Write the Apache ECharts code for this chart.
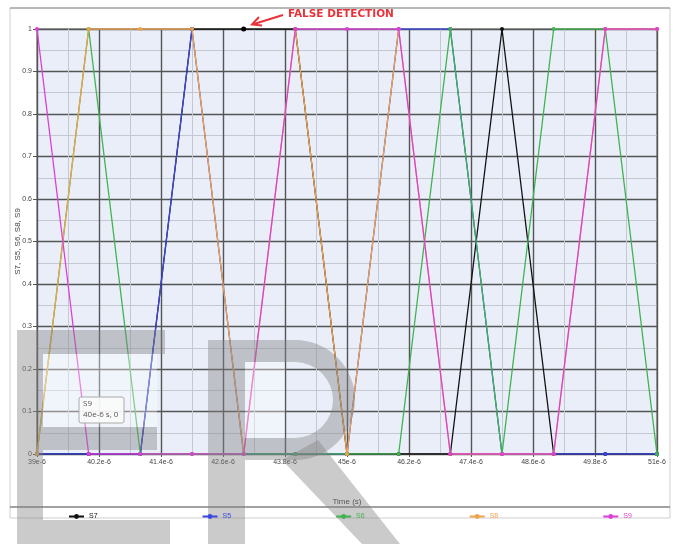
<!DOCTYPE html>
<html>
<head>
<meta charset="utf-8">
<script src="https://cdn.jsdelivr.net/npm/echarts@6/dist/echarts.min.js"></script>
<style>
  html, body { margin: 0; padding: 0; background: #fff; }
  #main { width: 676px; height: 544px; }
</style>
</head>
<body>
<div id="main"></div>
<script>
// sample times in microseconds (axis labels get the e-6 suffix)
const times = [39, 40, 41, 42, 43, 44, 45, 46, 47, 48, 49, 50, 51];
const s7 = [0, 0, 0, 1, 1, 1, 0, 0, 0, 1, 0, 0, 0];
const s5 = [0, 0, 0, 1, 0, 0, 0, 1, 1, 0, 0, 0, 0];
const s6 = [0, 1, 0, 0, 0, 0, 0, 0, 1, 0, 1, 1, 0];
const s8 = [0, 1, 1, 1, 0, 1, 0, 1, 0, 0, 0, 1, 1];
const s9 = [1, 0, 0, 0, 0, 1, 1, 1, 0, 0, 0, 1, 1];
const seriesNames = ['S7', 'S5', 'S6', 'S8', 'S9'];
const seriesColors = ['#111111', '#3b46e0', '#3fb34f', '#eea24a', '#dd3fd6'];
const falseDetection = [43, 1];

const chart = echarts.init(document.getElementById('main'));

function pairs(vals) {
  return times.map((t, i) => [t, vals[i]]);
}

const allValues = [s7, s5, s6, s8, s9];
const series = allValues.map((vals, i) => ({
  name: seriesNames[i],
  type: 'line',
  data: pairs(vals),
  color: seriesColors[i],
  symbol: 'circle',
  symbolSize: 4,
  lineStyle: { width: 1.3 },
  animation: false
}));
series[0].markPoint = {
  symbol: 'circle',
  symbolSize: 5,
  itemStyle: { color: '#000' },
  label: { show: false },
  data: [{ coord: falseDetection }]
};

const wm = 'rgba(130,130,130,0.42)';
const wmLight = 'rgba(255,255,255,0.35)';

const option = {
  backgroundColor: '#fff',
  textStyle: { fontFamily: 'Liberation Sans' },
  grid: {
    left: 37, right: 19, top: 29, bottom: 90,
    outerBoundsMode: 'none',
    show: true, backgroundColor: '#e9eef9', borderColor: '#555', borderWidth: 1
  },
  legend: {
    left: 63, top: 508, z: 100,
    itemWidth: 15, itemHeight: 6, itemGap: 104,
    textStyle: { fontSize: 7 },
    data: seriesNames.map((n, i) => ({ name: n, textStyle: { color: seriesColors[i] } }))
  },
  xAxis: {
    type: 'value', min: 39, max: 51, interval: 1.2,
    name: 'Time (s)', nameLocation: 'middle', nameGap: 44,
    nameTextStyle: { fontSize: 8, color: '#333' },
    axisLine: { lineStyle: { color: '#555' } },
    axisTick: { show: true, length: 3, lineStyle: { color: '#555' } },
    axisLabel: {
      fontSize: 7, color: '#444', margin: 5,
      formatter: v => (+v.toFixed(1)) + 'e-6'
    },
    splitLine: { lineStyle: { color: '#555', width: 1.4 } },
    minorTick: { show: false, splitNumber: 2 },
    minorSplitLine: { show: true, lineStyle: { color: '#c4c8d0', width: 1 } }
  },
  yAxis: {
    type: 'value', min: 0, max: 1, interval: 0.1,
    name: 'S7, S5, S6, S8, S9', nameLocation: 'middle', nameGap: 15,
    nameMoveOverlap: false,
    nameTextStyle: { fontSize: 8, color: '#444' },
    axisLine: { show: true, lineStyle: { color: '#555' } },
    axisTick: { show: true, length: 4, lineStyle: { color: '#555' } },
    axisLabel: { fontSize: 7, color: '#444', margin: 5 },
    splitLine: { lineStyle: { color: '#555', width: 1.4 } },
    minorTick: { show: false, splitNumber: 2 },
    minorSplitLine: { show: true, lineStyle: { color: '#c4c8d0', width: 1 } }
  },
  graphic: [
    // panel frame
    { type: 'rect', shape: { x: 10, y: 8, width: 660, height: 510 }, style: { fill: 'none', stroke: '#cfcfcf', lineWidth: 1 }, z: 0 },
    { type: 'line', shape: { x1: 10, y1: 8, x2: 670, y2: 8 }, style: { stroke: '#888', lineWidth: 1 } },
    { type: 'line', shape: { x1: 10, y1: 507, x2: 670, y2: 507 }, style: { stroke: '#444', lineWidth: 1.2 } },
    // annotation
    { type: 'text', x: 288, y: 9, style: { text: 'FALSE DETECTION', fill: '#e8333a', font: 'bold 10.5px "DejaVu Sans"' } },
    { type: 'line', shape: { x1: 283, y1: 15, x2: 254, y2: 24 }, style: { stroke: '#e8333a', lineWidth: 2 } },
    { type: 'polyline', shape: { points: [[259, 17], [252, 24.5], [262, 25.5]] }, style: { stroke: '#e8333a', lineWidth: 2, fill: 'none' } },
    // watermark letters
    { type: 'rect', shape: { x: 43, y: 354, width: 114, height: 73 }, style: { fill: wmLight }, z: 59 },
    { type: 'rect', shape: { x: 245, y: 362, width: 40, height: 76 }, style: { fill: wmLight }, z: 59 },
    { type: 'rect', shape: { x: 17, y: 330, width: 148, height: 24 }, style: { fill: wm }, z: 60 },
    { type: 'rect', shape: { x: 17, y: 354, width: 26, height: 190 }, style: { fill: wm }, z: 60 },
    { type: 'rect', shape: { x: 43, y: 427, width: 114, height: 23 }, style: { fill: wm }, z: 60 },
    { type: 'rect', shape: { x: 43, y: 520, width: 127, height: 24 }, style: { fill: wm }, z: 60 },
    { type: 'rect', shape: { x: 208, y: 340, width: 37, height: 204 }, style: { fill: wm }, z: 60 },
    { type: 'rect', shape: { x: 245, y: 340, width: 50, height: 22 }, style: { fill: wm }, z: 60 },
    { type: 'sector', shape: { cx: 295, cy: 400, r: 60, r0: 38, startAngle: -Math.PI / 2, endAngle: Math.PI / 2 }, style: { fill: wm }, z: 60 },
    { type: 'rect', shape: { x: 245, y: 438, width: 50, height: 22 }, style: { fill: wm }, z: 60 },
    { type: 'polygon', shape: { points: [[282, 460], [318, 440], [400, 544], [362, 544]] }, style: { fill: wm }, z: 60 },
    // hover box
    { type: 'rect', shape: { x: 79, y: 397, width: 45, height: 26, r: 2 }, style: { fill: 'rgba(250,250,250,0.92)', stroke: '#aaa', lineWidth: 1 }, z: 70 },
    { type: 'text', x: 83, y: 400, style: { text: 'S9', fill: '#555', font: '8px "Open Sans"' }, z: 71 },
    { type: 'text', x: 83, y: 411, style: { text: '40e-6 s, 0', fill: '#555', font: '8px "Open Sans"' }, z: 71 }
  ],
  series: series
};

chart.setOption(option);
</script>
</body>
</html>
